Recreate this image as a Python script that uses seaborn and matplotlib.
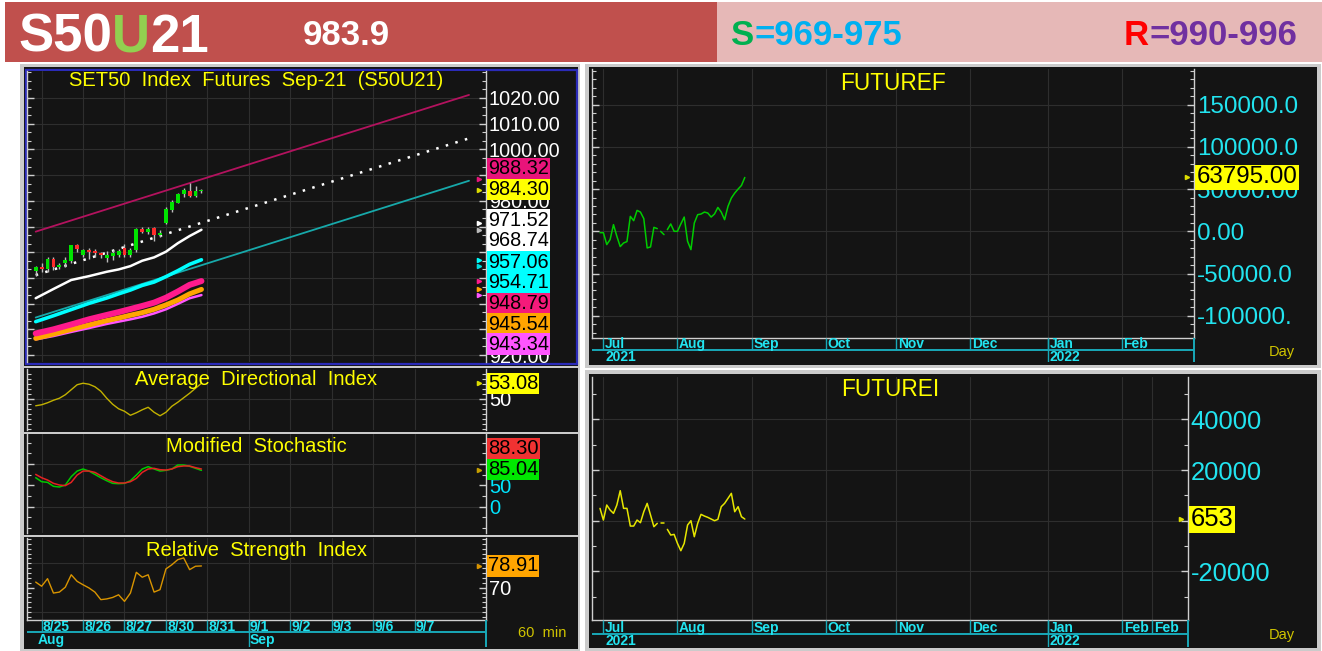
import matplotlib
matplotlib.use("Agg")
import matplotlib.pyplot as plt
from matplotlib.patches import Rectangle
from matplotlib.ticker import FixedLocator, MultipleLocator
import numpy as np
import seaborn as sns

W, H = 1322, 651

# ---------------- data ----------------
# 60 min candles, last bar of 24 Aug .. close of 30 Aug 2021
bar_open = [952.8, 954.4, 953.5, 957.4, 954.1, 955.7, 956.7, 962.7, 958.9, 960.9, 960.4, 959.6, 957.9, 958.5,
            958.8, 961.8, 958.8, 960.9, 968.9, 967.9, 969.3, 966.7, 971.5, 976.4, 979.3, 982.7, 984.0, 981.9, 983.7]
bar_high = [954.6, 955.7, 958.0, 958.0, 955.9, 958.0, 962.9, 963.2, 961.4, 961.8, 961.1, 960.1, 960.4, 960.9,
            961.3, 963.2, 961.5, 969.3, 969.7, 970.0, 970.0, 968.7, 977.5, 980.3, 983.2, 984.9, 986.8, 985.8, 984.5]
bar_low = [950.8, 952.4, 952.4, 953.1, 953.3, 954.4, 955.7, 960.1, 958.0, 957.2, 958.0, 957.6, 956.3, 957.0,
           958.0, 958.0, 958.0, 960.2, 967.4, 967.1, 964.5, 966.1, 971.0, 975.8, 979.0, 981.6, 981.4, 981.4, 982.9]
bar_close = [954.4, 953.3, 957.4, 954.4, 955.0, 957.0, 962.9, 961.1, 960.9, 960.2, 959.6, 958.8, 958.8, 959.6,
             960.4, 958.9, 960.9, 968.9, 967.9, 969.2, 966.7, 967.6, 976.8, 979.7, 982.7, 984.2, 981.9, 984.0, 984.3]

# moving averages, read every few bars
ma_bars = [0, 3, 6, 9, 12, 14, 16, 18, 20, 22, 24, 26, 28]
ma_white = [942.1, 945.7, 949.2, 950.7, 952.4, 953.3, 954.6, 956.7, 958.0, 960.2, 963.5, 966.3, 968.74]
ma_cyan = [933.0, 935.3, 937.7, 940.1, 942.2, 943.8, 945.3, 947.1, 948.4, 950.5, 952.8, 955.3, 957.06]
ma_pink = [928.4, 930.0, 931.9, 933.9, 935.6, 936.7, 937.9, 939.1, 940.4, 942.3, 944.7, 947.3, 948.79]
ma_orange = [926.5, 928.2, 930.0, 931.7, 933.4, 934.4, 935.5, 936.5, 937.8, 939.5, 941.4, 943.8, 945.54]
ma_violet = [926.1, 927.4, 929.0, 930.5, 932.1, 933.0, 933.9, 934.9, 936.2, 937.8, 939.9, 942.1, 943.34]

# regression channel
reg_bars = [0, 73.2]
reg_upper = [968.0, 1021.2]
reg_mid = [951.1, 1004.3]
reg_lower = [934.6, 987.8]

price_ticks = [920, 930, 940, 950, 960, 970, 980, 990, 1000, 1010, 1020]
price_shown = [920, 980, 1000, 1010, 1020]
price_tags = ["988.32", "984.30", "971.52", "968.74", "957.06", "954.71", "948.79", "945.54", "943.34"]

day_first_bar = [1, 8, 15, 22, 29, 36, 43, 50, 57, 64]
day_labels = ["8/25", "8/26", "8/27", "8/30", "8/31", "9/1", "9/2", "9/3", "9/6", "9/7"]

adx = [48.6, 48.8, 49.2, 49.7, 50.1, 50.8, 51.8, 52.8, 53.1, 52.9, 52.4, 51.5, 50.1, 48.9, 48.0,
       47.5, 46.7, 47.2, 47.8, 48.3, 47.3, 46.6, 47.3, 48.5, 49.3, 50.2, 51.1, 52.1, 53.08]
stoch_k = [67.9, 58.6, 57.0, 47.7, 46.1, 50.8, 70.3, 83.5, 88.3, 83.5, 75.7, 67.9, 60.9, 54.7, 53.9,
           54.7, 60.9, 74.2, 88.3, 93.8, 88.3, 83.5, 85.1, 88.3, 97.7, 97.7, 94.6, 89.9, 85.04]
stoch_d = [75.7, 67.9, 62.5, 54.7, 50.8, 49.3, 57.0, 74.2, 83.5, 83.5, 80.4, 72.6, 64.8, 58.6, 55.5,
           55.5, 58.6, 66.4, 80.4, 88.3, 89.9, 86.7, 85.9, 88.3, 93.8, 95.4, 95.4, 91.5, 88.30]
rsi = [72.3, 70.6, 73.7, 67.8, 68.2, 70.2, 75.3, 72.6, 71.2, 69.9, 68.2, 65.1, 65.4, 66.0, 67.1,
       64.4, 67.8, 76.3, 74.3, 75.3, 68.2, 69.2, 77.7, 79.4, 81.5, 82.2, 77.4, 78.8, 78.91]

# daily series, 30 Jun .. 31 Aug 2021 (trading days)
futf = [-1600, -1600, -15700, -9800, 7900, -5900, -18100, -13800, -12200, 17700, 12600, 24800, 22800, 15000,
        -19700, -18500, 4700, 3200, 0, -3900, 2000, 8700, 0, 0, 8700, 16900, -11800, -21700, 9800, 19700,
        20500, 22800, 21700, 16900, 20500, 28300, 22800, 13800, 29500, 39400, 45300, 50000, 54300, 63795]
futi = [4870, 260, 6190, 4210, 2900, 6190, 11840, 4870, 4870, -2110, -2110, 260, -790, 3550, 6840, 2240,
        -2370, -1050, -1050, -1050, -3420, -5660, -5400, -8950, -11840, -8950, -1710, 0, -6320, -1050,
        2500, 1840, 1320, 660, 0, 530, 5530, 6840, 8820, 10790, 3550, 5530, 1580, 653]
fut_segments = [(0, 18), (18, 20), (20, 44)]

month_first = [1, 23, 45, 67, 88, 110, 133, 155]
month_labels = ["Jul", "Aug", "Sep", "Oct", "Nov", "Dec", "Jan", "Feb"]
futf_ticks = [-100000, -50000, 0, 50000, 100000, 150000]
futf_ticklabels = ["-100000.", "-50000.0", "0.00", "50000.00", "100000.0", "150000.0"]
futi_ticks = [-20000, 0, 20000, 40000]
futi_ticklabels = ["-20000", "", "20000", "40000"]

# ---------------- style ----------------
PANEL = "#141414"
GRID = "#2e2e2e"
YEL = "#ffff00"
CY = "#22e4f0"
CY_LINE = "#19a9b8"
SPINE = "#cfcfcf"

sns.set_theme(style="dark", rc={"axes.facecolor": PANEL, "figure.facecolor": "white"})
plt.rcParams["font.family"] = ["Liberation Sans", "DejaVu Sans"]
NARROW = ["Liberation Sans Narrow", "Liberation Sans", "DejaVu Sans"]


def px_rect(x0, y0, x1, y1):
    return [x0 / W, 1 - y1 / H, (x1 - x0) / W, (y1 - y0) / H]


def style_panel(ax, xlim, ylim, ticks, labels, minor, size, labcol="white", bottom=False):
    ax.set_facecolor(PANEL)
    ax.set_xlim(*xlim)
    ax.set_ylim(*ylim)
    ax.grid(False)
    ax.set_xlabel("")
    ax.set_ylabel("")
    for s in ax.spines.values():
        s.set_visible(False)
    for side in ["left", "right"] + (["bottom"] if bottom else []):
        ax.spines[side].set_visible(True)
        ax.spines[side].set_color(SPINE)
        ax.spines[side].set_linewidth(1)
    ax.yaxis.set_major_locator(FixedLocator(ticks))
    ax.set_yticklabels(labels)
    ax.yaxis.set_minor_locator(MultipleLocator(minor))
    ax.tick_params(axis="y", which="both", left=True, right=True, labelleft=False, labelright=True,
                   direction="in", color=SPINE, labelcolor=labcol, labelsize=size, pad=2)
    ax.tick_params(axis="y", which="major", length=5, width=1)
    ax.tick_params(axis="y", which="minor", length=3, width=0.8)
    ax.tick_params(axis="x", bottom=False, labelbottom=False)


def panel_title(ax, text, off_px, h_px, size):
    ax.text(0.5, 1 - off_px / h_px, text, transform=ax.transAxes, ha="center", va="center",
            color=YEL, fontsize=size, zorder=10)


def tag(ax, y, text, face, size, axes_y=False, dx=0.004):
    tr = ax.transAxes if axes_y else ax.get_yaxis_transform()
    ax.text(1 + dx, y, text, transform=tr, ha="left", va="center", color="black", fontsize=size,
            bbox=dict(boxstyle="square,pad=0.06", fc=face, ec="none"), zorder=20, clip_on=False)


def arrow(ax, x, y, color):
    ax.plot([x], [y], marker=">", ms=3, color=color, ls="none", clip_on=False, zorder=6)


def time_axis(ax, xlim, ticks, labels, long_ticks, low_labels, mid, y_top, y_low, dx):
    ax.set_xlim(*xlim)
    ax.set_ylim(0, 1)
    ax.set_axis_off()
    ax.axhline(mid, color=CY_LINE, lw=1.4)
    ax.vlines(ticks, mid, 1, color=CY_LINE, lw=1)
    ax.vlines(long_ticks, 0, 1, color=CY_LINE, lw=1)
    ax.vlines([xlim[1]], 0, 1, color=CY_LINE, lw=1.4, clip_on=False)
    for t, lab in zip(ticks, labels):
        ax.text(t + dx, y_top, lab, ha="left", va="center", color=CY, fontsize=10,
                fontweight="bold", family=NARROW)
    for t, lab in low_labels:
        ax.text(t + dx, y_low, lab, ha="left", va="center", color=CY, fontsize=10,
                fontweight="bold", family=NARROW)


fig = plt.figure(figsize=(W / 100, H / 100), dpi=100)

# ---------------- background, frames and header ----------------
bg = fig.add_axes([0, 0, 1, 1])
bg.set_xlim(0, W)
bg.set_ylim(H, 0)
bg.set_axis_off()


def rect(x0, y0, x1, y1, fc, ec="none", lw=0, fill=True):
    bg.add_patch(Rectangle((x0, y0), x1 - x0, y1 - y0, fc=fc, ec=ec, lw=lw, fill=fill))


rect(5, 2, 717, 62, "#c0504d")
rect(717, 2, 1322, 62, "#e6b8b7")
rect(20, 64, 580, 651, "#cbcbcb")
rect(24, 67, 578, 366, PANEL)
rect(24, 368, 578, 432, PANEL)
rect(24, 434, 578, 535, PANEL)
rect(24, 537, 578, 649, PANEL)
rect(25.5, 69.5, 576.5, 364, "none", ec="#2b2bb8", lw=1.6, fill=False)
rect(585, 64, 1321, 368, "#cbcbcb")
rect(589, 67, 1317, 365, PANEL)
rect(585, 370, 1321, 651, "#cbcbcb")
rect(589, 374, 1317, 648, PANEL)

hk = dict(fontweight="bold", va="bottom")
t = bg.text(18, 63, "S50", color="white", fontsize=38, ha="left", va="bottom", fontweight="bold")
t = bg.annotate("U", xy=(1, 0), xycoords=t, color="#92d050", fontsize=38, **hk)
bg.annotate("21", xy=(1, 0), xycoords=t, color="white", fontsize=38, **hk)
bg.text(303, 52, "983.9", color="white", fontsize=25, ha="left", va="bottom", fontweight="bold")
t = bg.text(731, 52, "S", color="#00b050", fontsize=25, ha="left", va="bottom", fontweight="bold")
bg.annotate("=969-975", xy=(1, 0), xycoords=t, color="#00b0f0", fontsize=25, **hk)
t = bg.text(1124, 52, "R", color="#ff0000", fontsize=25, ha="left", va="bottom", fontweight="bold")
bg.annotate("=990-996", xy=(1, 0), xycoords=t, color="#7030a0", fontsize=25, **hk)

# ---------------- price panel ----------------
bx = (-1.47, 76.07)
ax_p = fig.add_axes(px_rect(27, 71, 486, 362))
style_panel(ax_p, bx, (917.3, 1030.5), price_ticks,
            [f"{v:.2f}" if v in price_shown else "" for v in price_ticks], 10 / 3, 14.3)
for v in price_ticks:
    ax_p.axhline(v, color=GRID, lw=0.8, zorder=0)
for d in day_first_bar:
    ax_p.axvline(d, color=GRID, lw=0.8, zorder=0)

sns.lineplot(x=reg_bars, y=reg_upper, ax=ax_p, color="#b3125e", lw=1.3, legend=False)
sns.lineplot(x=reg_bars, y=reg_lower, ax=ax_p, color="#17a9aa", lw=1.3, legend=False)
sns.lineplot(x=reg_bars, y=reg_mid, ax=ax_p, color="white", lw=1.8, ls=(0, (1, 3)), legend=False)
sns.lineplot(x=ma_bars, y=ma_violet, ax=ax_p, color="#ff55ff", lw=1.8, legend=False)
sns.lineplot(x=ma_bars, y=ma_orange, ax=ax_p, color="#ffa500", lw=3.6, legend=False)
sns.lineplot(x=ma_bars, y=ma_pink, ax=ax_p, color="#ff1a8c", lw=4.3, legend=False)
sns.lineplot(x=ma_bars, y=ma_cyan, ax=ax_p, color="#00ffff", lw=2.6, legend=False)
sns.lineplot(x=ma_bars, y=ma_white, ax=ax_p, color="white", lw=1.8, legend=False)

bars = np.arange(len(bar_open))
o = np.array(bar_open)
c = np.array(bar_close)
body_col = np.where(c >= o, "#00e400", "#ff2b2b")
ax_p.vlines(bars, bar_low, bar_high, color="#bdbdbd", lw=1, zorder=4)
ax_p.bar(bars, np.where(np.abs(c - o) < 0.4, 0.4, c - o), bottom=o, width=0.66, color=body_col,
         edgecolor="none", linewidth=0, zorder=5)
ax_p.set_xlabel("")
ax_p.set_ylabel("")

panel_title(ax_p, "SET50  Index  Futures  Sep-21  (S50U21)", 10, 291, 14.5)
tag_face = ["#e8147a", "#ffff00", "#ffffff", "#ffffff", "#00ffff", "#00ffff", "#f51a7a", "#ffa500", "#ff55ff"]
tag_px = [169, 189.5, 220, 241, 262, 283, 303.5, 324, 344]
for txt, face, ypx in zip(price_tags, tag_face, tag_px):
    tag(ax_p, (362 - ypx) / 291, txt, face, 14.3, axes_y=True)
arrow_col = ["#e8147a", "#dddd00", "#ffffff", "#bbbbbb", "#00ffff", "#00dddd", "#ff1a8c", "#ffa500", "#ff55ff"]
for txt, col in zip(price_tags, arrow_col):
    arrow(ax_p, 74.9, float(txt), col)

# ---------------- ADX ----------------
ax_a = fig.add_axes(px_rect(27, 369, 486, 430))
style_panel(ax_a, bx, (43.76, 55.94), [50], ["50"], 1, 14.5)
ax_a.axhline(50, color=GRID, lw=0.8, zorder=0)
for d in day_first_bar:
    ax_a.axvline(d, color=GRID, lw=0.8, zorder=0)
sns.lineplot(x=bars, y=adx, ax=ax_a, color="#c2b100", lw=1, legend=False)
ax_a.set_xlabel("")
panel_title(ax_a, "Average  Directional  Index", 11, 61, 14.5)
tag(ax_a, adx[-1], f"{adx[-1]:.2f}", "#ffff00", 14.5)
arrow(ax_a, 74.9, adx[-1], "#dddd00")

# ---------------- Stochastic ----------------
ax_s = fig.add_axes(px_rect(27, 434, 486, 533))
style_panel(ax_s, bx, (-61.6, 170.3), [0, 50, 100], ["0", "50", ""], 25, 14.5, labcol="#00e5ff")
for v in [0, 100]:
    ax_s.axhline(v, color=GRID, lw=0.8, zorder=0)
for d in day_first_bar:
    ax_s.axvline(d, color=GRID, lw=0.8, zorder=0)
sns.lineplot(x=bars, y=stoch_k, ax=ax_s, color="#00c800", lw=1.1, legend=False)
sns.lineplot(x=bars, y=stoch_d, ax=ax_s, color="#e52222", lw=1.1, legend=False)
ax_s.set_xlabel("")
panel_title(ax_s, "Modified  Stochastic", 12, 99, 14.5)
tag(ax_s, (533 - 448.5) / 99, f"{stoch_d[-1]:.2f}", "#f03232", 14.5, axes_y=True)
tag(ax_s, (533 - 469.5) / 99, f"{stoch_k[-1]:.2f}", "#00e800", 14.5, axes_y=True)
arrow(ax_s, 74.9, stoch_k[-1], "#c8a000")

# ---------------- RSI ----------------
ax_r = fig.add_axes(px_rect(27, 538, 486, 620))
style_panel(ax_r, bx, (56.76, 90.37), [70], ["70"], 2, 14.5, bottom=True)
for v in [60, 80]:
    ax_r.axhline(v, color=GRID, lw=0.8, zorder=0)
for d in day_first_bar:
    ax_r.axvline(d, color=GRID, lw=0.8, zorder=0)
sns.lineplot(x=bars, y=rsi, ax=ax_r, color="#d99400", lw=1, legend=False)
ax_r.set_xlabel("")
panel_title(ax_r, "Relative  Strength  Index", 12, 82, 14.5)
tag(ax_r, rsi[-1], f"{rsi[-1]:.2f}", "#ffa500", 14.5)
arrow(ax_r, 74.9, rsi[-1], "#d99400")

ax_dt = fig.add_axes(px_rect(27, 620, 486, 647))
time_axis(ax_dt, bx, day_first_bar, day_labels, [day_first_bar[5]],
          [(0.05, "Aug"), (day_first_bar[5], "Sep")], 0.55, 0.75, 0.26, 0.2)
bg.text(518, 633, "60  min", color="#d0c400", fontsize=10.5, ha="left", va="center")

# ---------------- FUTUREF ----------------
fx = (-2.38, 176.4)
idx = np.arange(len(futf))
ax_f = fig.add_axes(px_rect(592, 69, 1194, 338))
style_panel(ax_f, fx, (-126400, 192300), futf_ticks, futf_ticklabels, 10000, 17.4, labcol=CY, bottom=True)
for v in futf_ticks:
    ax_f.axhline(v, color=GRID, lw=0.8, zorder=0)
for m in month_first:
    ax_f.axvline(m, color=GRID, lw=0.8, zorder=0)
for a, b in fut_segments:
    sns.lineplot(x=idx[a:b], y=futf[a:b], ax=ax_f, color="#00cc00", lw=1.1, legend=False)
ax_f.set_xlabel("")
panel_title(ax_f, "FUTUREF", 14, 269, 16.3)
tag(ax_f, futf[-1], f"{futf[-1]:.2f}", "#ffff00", 17.4)
arrow(ax_f, 174.4, futf[-1], "#dddd00")

ax_fd = fig.add_axes(px_rect(592, 338, 1194, 362))
time_axis(ax_fd, fx, month_first, month_labels, [month_first[6]],
          [(month_first[0], "2021"), (month_first[6], "2022")], 0.5, 0.74, 0.22, 0.5)
bg.text(1269, 352, "Day", color="#d0c400", fontsize=10.5, ha="left", va="center")

# ---------------- FUTUREI ----------------
ix = (-2.38, 174.6)
ax_i = fig.add_axes(px_rect(592, 377, 1188, 620))
style_panel(ax_i, ix, (-39170, 56690), futi_ticks, futi_ticklabels, 10000, 18.4, labcol=CY, bottom=True)
for v in futi_ticks:
    ax_i.axhline(v, color=GRID, lw=0.8, zorder=0)
for m in month_first + [164]:
    ax_i.axvline(m, color=GRID, lw=0.8, zorder=0)
for a, b in fut_segments:
    sns.lineplot(x=idx[a:b], y=futi[a:b], ax=ax_i, color="#e6e600", lw=1.1, legend=False)
ax_i.set_xlabel("")
panel_title(ax_i, "FUTUREI", 13, 243, 16.3)
tag(ax_i, futi[-1], f"{futi[-1]}", "#ffff00", 18.4)
arrow(ax_i, 172.6, futi[-1], "#dddd00")

ax_id = fig.add_axes(px_rect(592, 620, 1188, 647))
time_axis(ax_id, ix, month_first + [164], month_labels + ["Feb"], [month_first[6]],
          [(month_first[0], "2021"), (month_first[6], "2022")], 0.5, 0.7, 0.22, 0.5)
bg.text(1269, 635, "Day", color="#d0c400", fontsize=10.5, ha="left", va="center")

fig.savefig("out.png", dpi=100)
